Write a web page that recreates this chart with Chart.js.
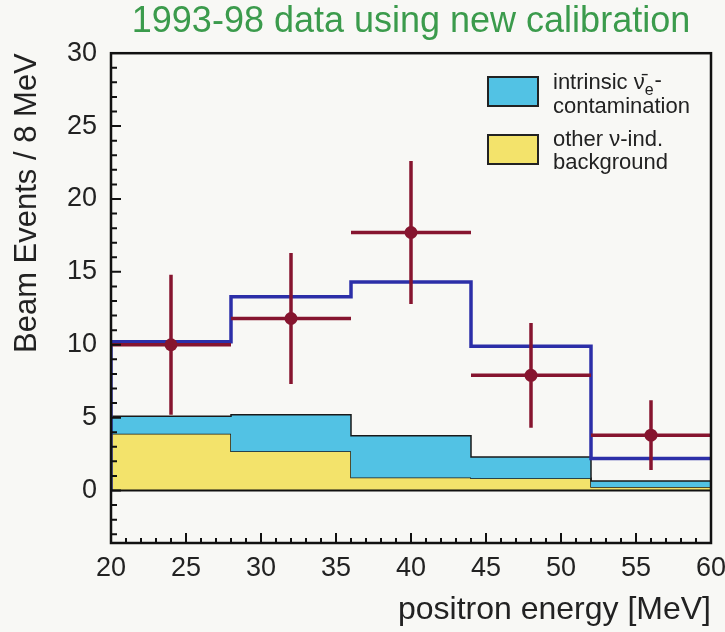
<!DOCTYPE html>
<html>
<head>
<meta charset="utf-8">
<title>Beam events vs positron energy</title>
<script src="https://cdn.jsdelivr.net/npm/chart.js@4.4.1/dist/chart.umd.min.js"></script>
<style>
  html, body { margin: 0; padding: 0; background: #f8f8f5; }
  #wrap { width: 725px; height: 632px; }
</style>
</head>
<body>
<div id="wrap"><canvas id="chart" width="725" height="632"></canvas></div>
<script>
// 8 MeV energy bins
var binEdges = [20, 28, 36, 44, 52, 60];
var binCentres = [24, 32, 40, 48, 56];

// measured beam events and their errors
var beamEvents = [10.0, 11.8, 17.7, 7.9, 3.8];
var beamErrors = [4.8, 4.5, 4.9, 3.6, 2.4];

// expected total per bin
var expectedTotal = [10.2, 13.3, 14.3, 9.9, 2.2];

// backgrounds (stacked: other nu-induced below, intrinsic nue-bar above)
var otherBackground = [3.9, 2.7, 0.9, 0.85, 0.25];
var intrinsicBackground = [1.2, 2.5, 2.85, 1.45, 0.4];

var xTicks = [20, 25, 30, 35, 40, 45, 50, 55, 60];
var yTicks = [0, 5, 10, 15, 20, 25, 30];

var FONT = '"Liberation Sans", Arial, Helvetica, sans-serif';
var INK = '#222222';
var RED = '#86152f';

Chart.defaults.font.family = FONT;
Chart.defaults.color = INK;

// one point per bin edge, last value repeated at 60 MeV; with stepped
// 'before' each segment runs flat at the value of the bin it starts
function stepPoints(values) {
  return binEdges.map(function(x, i) {
    return { x: x, y: values[Math.min(i, values.length - 1)] };
  });
}

var stackedTop = intrinsicBackground.map(function(v, i) {
  return v + otherBackground[i];
});

var decorations = {
  id: 'decorations',
  afterDatasetsDraw: function(chart) {
    var ctx = chart.ctx, x = chart.scales.x, y = chart.scales.y, a = chart.chartArea;
    ctx.save();
    // zero line
    ctx.strokeStyle = '#111';
    ctx.lineWidth = 2;
    ctx.beginPath();
    ctx.moveTo(a.left, y.getPixelForValue(0));
    ctx.lineTo(a.right, y.getPixelForValue(0));
    ctx.stroke();

    // error bars: full bin width horizontally, +-error vertically
    ctx.strokeStyle = RED;
    ctx.lineWidth = 3.5;
    for (var i = 0; i < beamEvents.length; i++) {
      var py = y.getPixelForValue(beamEvents[i]);
      var px = x.getPixelForValue(binCentres[i]);
      ctx.beginPath();
      ctx.moveTo(x.getPixelForValue(binEdges[i]), py);
      ctx.lineTo(x.getPixelForValue(binEdges[i + 1]), py);
      ctx.moveTo(px, y.getPixelForValue(beamEvents[i] + beamErrors[i]));
      ctx.lineTo(px, y.getPixelForValue(beamEvents[i] - beamErrors[i]));
      ctx.stroke();
    }
    ctx.restore();
  },
  afterDraw: function(chart) {
    var ctx = chart.ctx, x = chart.scales.x, y = chart.scales.y, a = chart.chartArea;
    var v, p, len;
    ctx.save();
    ctx.strokeStyle = '#111';

    // inward ticks on the bottom and left edges
    ctx.lineWidth = 2;
    ctx.beginPath();
    for (v = 21; v < 60; v++) {
      p = x.getPixelForValue(v);
      len = v % 5 === 0 ? 10 : 5;
      ctx.moveTo(p, a.bottom);
      ctx.lineTo(p, a.bottom - len);
    }
    for (v = -3; v < 30; v++) {
      p = y.getPixelForValue(v);
      len = v % 5 === 0 ? 10 : 6;
      ctx.moveTo(a.left, p);
      ctx.lineTo(a.left + len, p);
    }
    ctx.stroke();

    // frame
    ctx.lineWidth = 2.5;
    ctx.strokeRect(a.left, a.top, a.right - a.left, a.bottom - a.top);

    // legend
    ctx.lineWidth = 2;
    ctx.strokeStyle = INK;
    ctx.fillStyle = '#52c2e4';
    ctx.fillRect(488, 77, 50, 29);
    ctx.strokeRect(488, 77, 50, 29);
    ctx.fillStyle = '#f3e36b';
    ctx.fillRect(488, 135, 50, 29);
    ctx.strokeRect(488, 135, 50, 29);

    ctx.fillStyle = INK;
    ctx.textAlign = 'left';
    ctx.textBaseline = 'alphabetic';
    ctx.font = '22px ' + FONT;
    var head = 'intrinsic \u03bd\u0304';
    ctx.fillText(head, 553, 89);
    var w = ctx.measureText(head).width;
    ctx.font = '16px ' + FONT;
    ctx.fillText('e', 553 + w, 95);
    var we = ctx.measureText('e').width;
    ctx.font = '22px ' + FONT;
    ctx.fillText('-', 554 + w + we, 87);
    ctx.fillText('contamination', 553, 113);
    ctx.fillText('other \u03bd-ind.', 553, 146);
    ctx.fillText('background', 553, 169);
    ctx.restore();
  }
};

var ctx = document.getElementById('chart').getContext('2d');
var chart = new Chart(ctx, {
  type: 'line',
  data: {
    datasets: [
      {
        label: 'other nu-ind. background',
        data: stepPoints(otherBackground),
        stepped: 'before',
        fill: 'origin',
        backgroundColor: '#f3e36b',
        borderColor: '#1a1a1a',
        borderWidth: 1.5,
        pointRadius: 0,
        order: 4
      },
      {
        label: 'intrinsic nue-bar contamination',
        data: stepPoints(stackedTop),
        stepped: 'before',
        fill: '-1',
        backgroundColor: '#52c2e4',
        borderColor: '#1a1a1a',
        borderWidth: 1.5,
        pointRadius: 0,
        order: 3
      },
      {
        label: 'expectation',
        data: [{ x: binEdges[0], y: 0 }].concat(stepPoints(expectedTotal)),
        stepped: 'before',
        fill: false,
        borderColor: '#2c2fa8',
        borderWidth: 3.5,
        pointRadius: 0,
        order: 2
      },
      {
        label: 'beam events',
        data: binCentres.map(function(c, i) { return { x: c, y: beamEvents[i] }; }),
        showLine: false,
        pointRadius: 6.5,
        pointBackgroundColor: RED,
        pointBorderWidth: 0,
        order: 1
      }
    ]
  },
  options: {
    responsive: false,
    animation: false,
    layout: { padding: { left: 0, right: 14, top: 0, bottom: 0 } },
    scales: {
      x: {
        type: 'linear',
        min: 20,
        max: 60,
        afterBuildTicks: function(s) {
          s.ticks = xTicks.map(function(v) { return { value: v }; });
        },
        afterFit: function(s) {
          s.height = 89;
          s.paddingLeft = 0;
          s.paddingRight = 0;
        },
        grid: { display: false, drawTicks: false },
        border: { display: false },
        ticks: { padding: 9, maxRotation: 0, autoSkip: false, font: { size: 27 }, color: INK },
        title: {
          display: true,
          text: 'positron energy [MeV]',
          align: 'end',
          color: INK,
          font: { size: 32 },
          padding: { top: 0, bottom: 3 }
        }
      },
      y: {
        type: 'linear',
        min: -3.6,
        max: 30,
        afterBuildTicks: function(s) {
          s.ticks = yTicks.map(function(v) { return { value: v }; });
        },
        afterFit: function(s) {
          s.width = 111;
        },
        grid: { display: false, drawTicks: false },
        border: { display: false },
        ticks: { padding: 14, font: { size: 27 }, color: INK },
        title: {
          display: true,
          text: 'Beam Events / 8 MeV',
          align: 'end',
          color: INK,
          font: { size: 31 },
          padding: { top: 9, bottom: 0 }
        }
      }
    },
    plugins: {
      legend: { display: false },
      tooltip: { enabled: false },
      title: {
        display: true,
        fullSize: false,
        text: '1993-98 data using new calibration',
        color: '#3b9b4c',
        font: { size: 36, weight: 'normal' },
        padding: { top: 0, bottom: 10 }
      }
    }
  },
  plugins: [decorations]
});
</script>
</body>
</html>
